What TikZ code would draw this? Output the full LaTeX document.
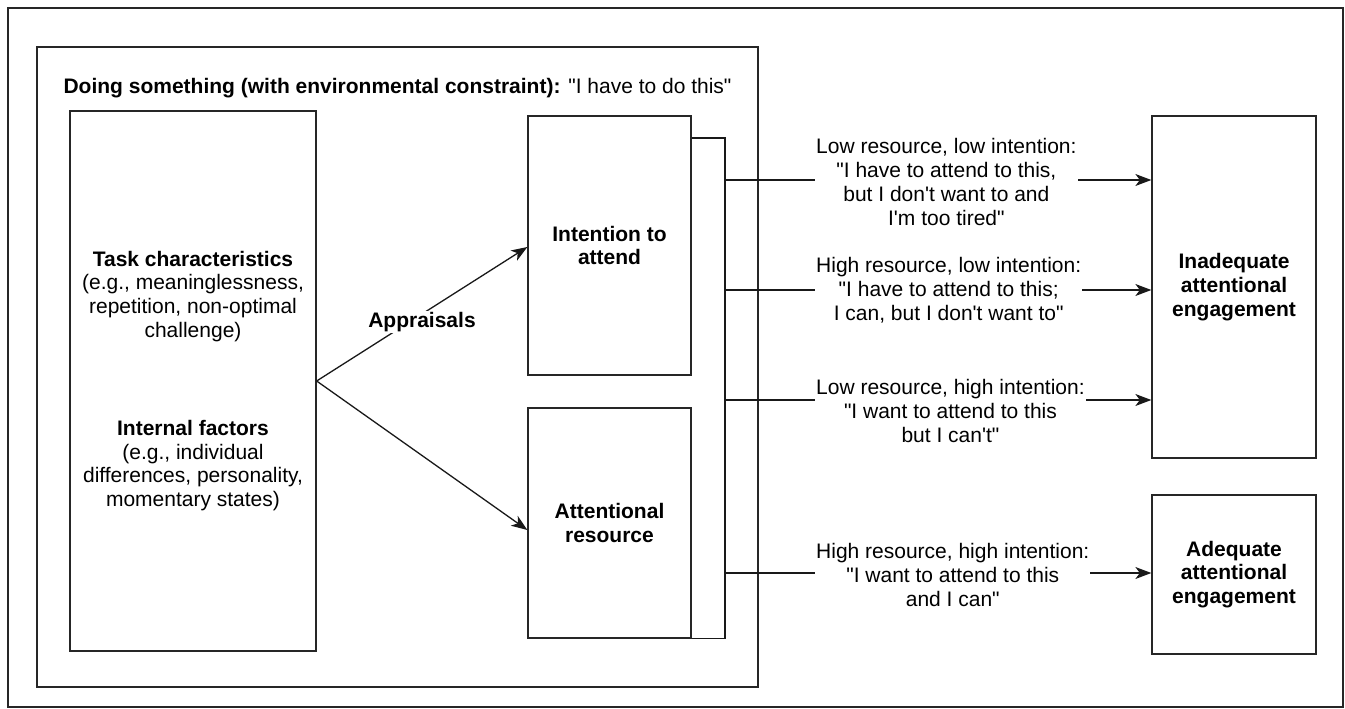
\documentclass[tikz,border=0pt]{standalone}
\usepackage{fontspec}
\setmainfont{Liberation Sans}[Ligatures=TeXOff]
\usetikzlibrary{arrows.meta}
\begin{document}
\begin{tikzpicture}[x=1pt,y=-1pt,
  box/.style={draw=black!85, line width=1.3pt, inner sep=0pt, align=center,
    font=\fontsize{21}{23.8}\selectfont\bfseries},
  lbl/.style={font=\fontsize{21}{23.8}\selectfont, align=center, fill=white, inner sep=1pt},
  conn/.style={line width=1.3pt, draw=black!90},
  arr/.style={conn, -{Stealth[length=16pt,width=12pt,inset=4.5pt]}}]
\useasboundingbox (0,0) rectangle (1345,709);
% frames
\node[box, minimum width=1335, minimum height=699] (outer) at (675.5,357.5) {};
\node[box, minimum width=721, minimum height=640] (inner) at (397.5,367) {};
\node[font=\fontsize{21}{23.8}\selectfont] (title) at (397.5,88)
  {\textbf{Doing something (with environmental constraint):} "I have to do this"};
% boxes
\node[box, minimum width=246, minimum height=540] (left) at (193,381)
  {Task characteristics\\
   \mdseries (e.g., meaninglessness,\\
   \mdseries repetition, non-optimal\\
   \mdseries challenge)\\[74pt]
   Internal factors\\
   \mdseries (e.g., individual\\
   \mdseries differences, personality,\\
   \mdseries momentary states)};
\node[box, minimum width=163, minimum height=259] (intent) at (609.5,245.5) {Intention to\\attend};
\node[box, minimum width=163, minimum height=230] (res) at (609.5,523) {Attentional\\resource};
\node[box, minimum width=164, minimum height=342] (inad) at (1234,287) {Inadequate\\attentional\\engagement};
\node[box, minimum width=164, minimum height=159] (adeq) at (1234,574.5) {Adequate\\attentional\\engagement};
% appraisal arrows
\coordinate (ya) at (0,247);
\coordinate (yb) at (0,530);
\draw[arr] (left.east) -- (intent.west |- ya);
\draw[arr] (left.east) -- (res.west |- yb);
\node[lbl, font=\fontsize{21}{23.8}\selectfont\bfseries] (appr) at (422,322) {Appraisals};
% bracket
\coordinate (b0) at (725,138);
\coordinate (b1) at (725,180);
\coordinate (b2) at (725,290);
\coordinate (b3) at (725,400);
\coordinate (b4) at (725,573);
\draw[conn] (intent.north east |- b0) -- (b0) -- (b0 |- res.south east) -- (res.south east);
\draw[arr] (b1) -- (b1 -| inad.west);
\draw[arr] (b2) -- (b2 -| inad.west);
\draw[arr] (b3) -- (b3 -| inad.west);
\draw[arr] (b4) -- (b4 -| adeq.west);
% labels
\node[lbl, anchor=west] (l1) at (815,182) {Low resource, low intention:\\"I have to attend to this,\\but I don't want to and\\I'm too tired"};
\node[lbl, anchor=west] (l2) at (815,290) {High resource, low intention:\\"I have to attend to this;\\I can, but I don't want to"};
\node[lbl, anchor=west] (l3) at (815,411) {Low resource, high intention:\\"I want to attend to this\\but I can't"};
\node[lbl, anchor=west] (l4) at (815,575) {High resource, high intention:\\"I want to attend to this\\and I can"};
\end{tikzpicture}
\end{document}
